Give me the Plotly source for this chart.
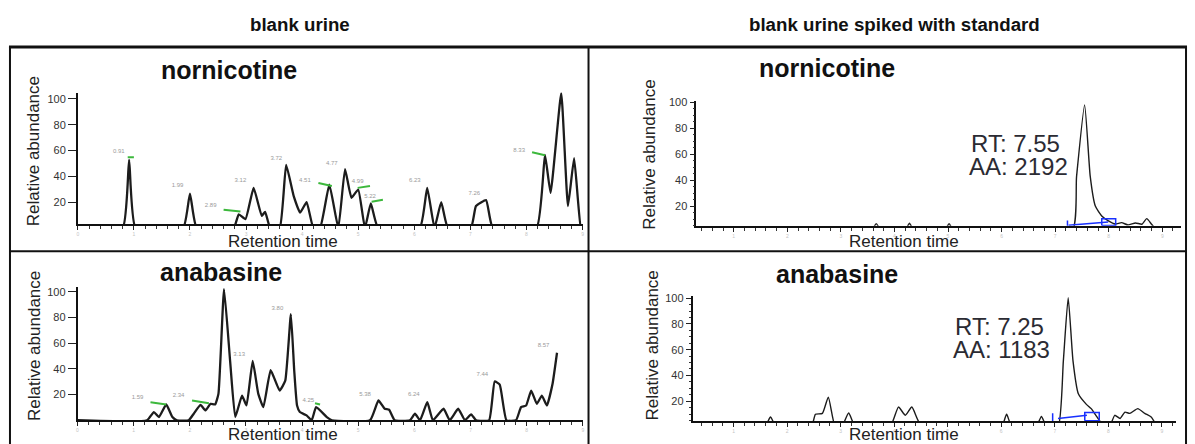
import plotly.graph_objects as go

W, H = 1195, 444
FONT = "Liberation Sans, Arial, Helvetica, sans-serif"

# ---------------- data ----------------
col_headers = ["blank urine", "blank urine spiked with standard"]
analytes = ["nornicotine", "anabasine"]
y_tick_vals = [20, 40, 60, 80, 100]
x_tick_vals = [0, 1, 2, 3, 4, 5, 6, 7, 8, 9]
axis_x_title = "Retention time"
axis_y_title = "Relative abundance"

# nornicotine, blank urine  (time [min], relative abundance [%])
nor_blank_t = [0, 0.80, 0.915, 1.03, 1.88, 2.0, 2.12, 2.78, 2.87, 2.99, 3.135, 3.28, 3.34, 3.43,
               3.60, 3.715, 3.85, 3.965, 4.08, 4.20, 4.32, 4.485, 4.645, 4.765, 4.88, 5.0, 5.12,
               5.225, 5.355, 6.10, 6.23, 6.36, 6.48, 6.60, 7.01, 7.10, 7.28, 7.40, 8.18, 8.33,
               8.43, 8.62, 8.74, 8.85, 8.97, 9.0]
nor_blank_v = [0, 0, 52.7, 0, 0, 26.6, 0, 0, 10.5, 6.7, 31.0, 9.3, 12.4, 0,
               0, 48.8, 24.6, 11.8, 20.0, 0, 0, 33.5, 0, 45.6, 23.3, 29.7, 0,
               18.9, 0, 0, 31.0, 0, 20.0, 0, 0, 16.9, 21.5, 0, 0, 56.5,
               27.1, 104.4, 16.9, 54.0, 0, 0]
nor_blank_lbl = ["0.91", "1.99", "2.89", "3.12", "3.72", "4.51", "4.77", "4.99", "5.22", "6.23", "7.26", "8.33"]
nor_blank_lbl_t = [0.73, 1.78, 2.37, 2.90, 3.54, 4.05, 4.53, 4.99, 5.21, 6.01, 7.07, 7.87]
nor_blank_lbl_v = [59.4, 32.5, 17.2, 37.1, 54.0, 37.1, 50.2, 35.6, 24.1, 37.1, 26.4, 60.1]
nor_blank_mark_t = [[0.89, 1.0], [2.60, 2.90], [4.29, 4.53], [4.99, 5.21], [5.24, 5.44], [8.10, 8.33]]
nor_blank_mark_v = [[54.8, 54.8], [14.1, 12.6], [34.8, 32.5], [31.0, 32.5], [20.2, 21.8], [58.6, 56.3]]

# anabasine, blank urine
ana_blank_t = [0, 1.24, 1.36, 1.45, 1.58, 1.69, 1.77, 1.98, 2.07, 2.19, 2.28, 2.37, 2.45, 2.51,
               2.61, 2.72, 2.81, 2.93, 3.01, 3.12, 3.22, 3.31, 3.44, 3.60, 3.70, 3.80, 3.86,
               3.91, 3.96, 4.08, 4.17, 4.25, 4.44, 4.53, 5.21, 5.36, 5.47, 5.55, 5.65, 5.92,
               6.01, 6.10, 6.23, 6.33, 6.52, 6.63, 6.78, 6.90, 7.01, 7.10, 7.33, 7.43, 7.52,
               7.64, 7.81, 7.90, 7.99, 8.08, 8.18, 8.27, 8.36, 8.46, 8.54]
ana_blank_v = [0, 0, 6.4, 2.5, 12.3, 2.5, 0, 0, 5.1, 12.0, 7.7, 12.8, 12.3, 20.5,
               102.0, 45.0, 2.5, 19.2, 11.5, 46.2, 20.5, 10.2, 39.0, 23.1, 30.8, 82.5, 38.5,
               11.5, 6.4, 3.8, 0, 10.2, 2.5, 0, 0, 15.4, 9.0, 8.2, 0, 0,
               5.1, 0, 14.1, 0, 9.0, 0, 9.0, 0, 4.6, 0, 0, 30.2, 27.7,
               0, 0, 10.2, 11.5, 23.1, 12.8, 19.2, 11.5, 28.2, 52.5]
ana_blank_lbl = ["1.59", "2.34", "2.61", "3.13", "3.80", "4.25", "5.38", "6.24", "7.44", "8.57"]
ana_blank_lbl_t = [1.07, 1.80, 2.49, 2.88, 3.56, 4.11, 5.12, 5.99, 7.21, 8.30]
ana_blank_lbl_v = [17.7, 19.2, 106.4, 50.8, 87.2, 15.4, 20.0, 20.0, 35.4, 58.5]
ana_blank_mark_t = [[1.30, 1.58], [2.04, 2.34], [4.23, 4.32]]
ana_blank_mark_v = [[14.1, 12.3], [15.4, 13.3], [13.3, 12.3]]

# nornicotine, spiked urine
nor_spk_t = [0.30, 3.55, 3.66, 3.77, 4.18, 4.28, 4.38, 4.92, 5.02, 5.12, 7.31, 7.40, 7.55,
             7.655, 7.75, 7.87, 7.995, 8.12, 8.24, 8.36, 8.50, 8.62, 8.71, 8.80, 8.93, 9.35]
nor_spk_v = [0, 0, 6.5, 0, 0, 6.8, 0, 0, 6.5, 0, 0, 42.9, 98.2,
             42.9, 20.0, 12.4, 8.6, 6.2, 7.2, 5.5, 7.0, 6.0, 10.3, 6.0, 0, 0]
nor_spk_rt, nor_spk_aa = "7.55", "2192"
nor_spk_base_t = [7.25, 7.99]
nor_spk_base_v = [5.2, 7.8]
nor_spk_start_t = [7.23, 7.23]
nor_spk_start_v = [4.0, 8.8]
nor_spk_box_t = [7.87, 8.13]
nor_spk_box_v = [5.0, 10.3]

# anabasine, spiked urine
ana_spk_t = [0.235, 1.58, 1.69, 1.80, 2.45, 2.53, 2.66, 2.77, 2.90, 3.02, 3.15, 3.28, 3.92,
             4.08, 4.21, 4.33, 4.52, 6.00, 6.10, 6.20, 6.65, 6.75, 6.85, 7.06, 7.16, 7.25,
             7.34, 7.44, 7.59, 7.68, 7.78, 7.93, 8.02, 8.12, 8.22, 8.31, 8.40, 8.55, 8.68,
             8.80, 8.93, 9.27]
ana_spk_v = [0, 0, 7.7, 0, 0, 9.8, 10.5, 23.1, 0, 0, 10.8, 0, 0,
             15.4, 9.0, 15.4, 0, 0, 9.8, 0, 0, 8.2, 0, 0, 51.3, 100.5,
             51.3, 25.7, 17.5, 14.2, 8.2, 0, 0, 9.0, 6.5, 11.5, 10.5, 14.2, 10.5,
             7.7, 0, 0]
ana_spk_rt, ana_spk_aa = "7.25", "1183"
ana_spk_base_t = [7.06, 7.60]
ana_spk_base_v = [6.5, 9.0]
ana_spk_start_t = [6.96, 6.96]
ana_spk_start_v = [4.0, 10.5]
ana_spk_box_t = [7.56, 7.83]
ana_spk_box_v = [4.8, 11.1]

# ---------------- layout helpers ----------------
def fx(p):
    return p / W


def fy(p):
    return 1 - p / H


# panel geometry (pixels) and axis ranges
panels = [
    dict(ax="", xd=(77, 583), yd=(88.5, 221.7), xr=(0, 9), yr=(2.8, 105), spiked=False),
    dict(ax="2", xd=(76.7, 583.3), yd=(285, 420), xr=(0, 9), yr=(0, 103.8), spiked=False),
    dict(ax="3", xd=(697, 1183), yd=(97.3, 223.3), xr=(0.30, 9.35), yr=(4.8, 101), spiked=True),
    dict(ax="4", xd=(693.3, 1178.3), yd=(294, 420.7), xr=(0.235, 9.27), yr=(4.6, 102), spiked=True),
]

fig = go.Figure()

LINE_DARK = "#1c1c1c"
GREEN = "#3cb83c"
BLUE = "#1830ff"


def add_trace(i, t, v, width, smooth):
    p = panels[i]
    fig.add_trace(go.Scatter(
        x=t, y=v, mode="lines",
        line=dict(color=LINE_DARK, width=width, shape="spline", smoothing=smooth),
        xaxis="x" + p["ax"], yaxis="y" + p["ax"], hoverinfo="skip", showlegend=False))


def add_labels(i, txt, t, v):
    p = panels[i]
    fig.add_trace(go.Scatter(
        x=t, y=v, mode="text", text=txt, cliponaxis=False,
        textfont=dict(size=6, color="#9a9a9a", family=FONT),
        xaxis="x" + p["ax"], yaxis="y" + p["ax"], hoverinfo="skip", showlegend=False))


def add_segments(i, seg_t, seg_v, color, width):
    p = panels[i]
    xs, ys = [], []
    for a, b in zip(seg_t, seg_v):
        xs += list(a) + [None]
        ys += list(b) + [None]
    fig.add_trace(go.Scatter(
        x=xs, y=ys, mode="lines", line=dict(color=color, width=width),
        xaxis="x" + p["ax"], yaxis="y" + p["ax"], hoverinfo="skip", showlegend=False))


def add_box(i, bt, bv):
    p = panels[i]
    fig.add_trace(go.Scatter(
        x=[bt[0], bt[1], bt[1], bt[0], bt[0]], y=[bv[0], bv[0], bv[1], bv[1], bv[0]],
        mode="lines", line=dict(color=BLUE, width=1.5),
        xaxis="x" + p["ax"], yaxis="y" + p["ax"], hoverinfo="skip", showlegend=False))


# blank urine panels
add_trace(0, nor_blank_t, nor_blank_v, 2.3, 0.4)
add_segments(0, nor_blank_mark_t, nor_blank_mark_v, GREEN, 2)
add_labels(0, nor_blank_lbl, nor_blank_lbl_t, nor_blank_lbl_v)

add_trace(1, ana_blank_t, ana_blank_v, 2.3, 0.4)
add_segments(1, ana_blank_mark_t, ana_blank_mark_v, GREEN, 2)
add_labels(1, ana_blank_lbl, ana_blank_lbl_t, ana_blank_lbl_v)

# spiked panels
add_trace(2, nor_spk_t, nor_spk_v, 1.4, 0.5)
add_segments(2, [nor_spk_base_t, nor_spk_start_t], [nor_spk_base_v, nor_spk_start_v], BLUE, 1.5)
add_box(2, nor_spk_box_t, nor_spk_box_v)

add_trace(3, ana_spk_t, ana_spk_v, 1.4, 0.5)
add_segments(3, [ana_spk_base_t, ana_spk_start_t], [ana_spk_base_v, ana_spk_start_v], BLUE, 1.5)
add_box(3, ana_spk_box_t, ana_spk_box_v)

# axes
layout_axes = {}
for p in panels:
    ax = p["ax"]
    xname = "xaxis" + ax
    yname = "yaxis" + ax
    layout_axes[xname] = dict(
        domain=[fx(p["xd"][0]), fx(p["xd"][1])], range=list(p["xr"]), anchor="y" + ax,
        showgrid=False, zeroline=False, showline=True, linecolor="#111", linewidth=2,
        tickmode="array", tickvals=x_tick_vals, ticktext=[str(v) for v in x_tick_vals],
        ticks="outside", ticklen=4, tickwidth=1, tickcolor="#222",
        tickfont=dict(size=5, color="#c4c4c4", family=FONT),
        minor=dict(tickmode="linear", tick0=0, dtick=0.2, ticks="outside", ticklen=3,
                   tickwidth=1, tickcolor="#333"),
        fixedrange=True)
    ydict = dict(
        domain=[fy(p["yd"][1]), fy(p["yd"][0])], range=list(p["yr"]), anchor="x" + ax,
        showgrid=False, zeroline=False, showline=True, linecolor="#111", linewidth=1.5,
        tickmode="array", tickvals=y_tick_vals, ticktext=[str(v) for v in y_tick_vals],
        ticks="outside", ticklen=8 if not p["spiked"] else 5, tickwidth=1.2, tickcolor="#222",
        tickfont=dict(size=11, color="#333", family=FONT),
        fixedrange=True)
    if p["spiked"]:
        ydict["minor"] = dict(tickmode="linear", tick0=0, dtick=5, ticks="outside", ticklen=2,
                              tickwidth=1, tickcolor="#333")
    layout_axes[yname] = ydict

annotations = []


def ann(text, x, y, size, bold=False, angle=0, xanchor="center", color="#111"):
    annotations.append(dict(
        text=text, x=fx(x), y=fy(y), xref="paper", yref="paper", showarrow=False,
        xanchor=xanchor, yanchor="middle", textangle=angle,
        font=dict(size=size, color=color, family=FONT, weight="bold" if bold else "normal")))


# column headers
ann(col_headers[0], 300, 20, 18.7, bold=True)
ann(col_headers[1], 896, 20, 18.7, bold=True)
# analyte titles
ann(analytes[0], 229, 66, 25, bold=True)
ann(analytes[0], 828, 64, 25, bold=True)
ann(analytes[1], 221, 270, 25, bold=True)
ann(analytes[1], 838, 272, 25, bold=True)
# axis titles
for (x, y) in [(32, 148), (33, 345), (650, 151), (653, 344)]:
    ann(axis_y_title, x, y, 17, angle=-90, color="#222")
for (x, y) in [(283, 239), (283, 434), (905, 239), (905, 434)]:
    ann(axis_x_title, x, y, 17, color="#222")
# RT / AA labels
ann("RT: " + nor_spk_rt, 970, 140, 24, xanchor="left", color="#2b2b33")
ann("AA: " + nor_spk_aa, 968, 163, 24, xanchor="left", color="#2b2b33")
ann("RT: " + ana_spk_rt, 954, 325, 24, xanchor="left", color="#2b2b33")
ann("AA: " + ana_spk_aa, 952, 348, 24, xanchor="left", color="#2b2b33")

# panel frame lines
shapes = []


def line(x0, y0, x1, y1, w):
    shapes.append(dict(type="line", xref="paper", yref="paper",
                       x0=fx(x0), y0=fy(y0), x1=fx(x1), y1=fy(y1),
                       line=dict(color="#111", width=w)))


line(8, 42.5, 1189, 42.5, 3)
line(9, 42, 9, 444, 2)
line(1188, 42, 1188, 444, 2)
line(589, 42, 589, 444, 2)
line(9, 249, 1188, 249, 2)

fig.update_layout(
    width=W, height=H, autosize=False,
    margin=dict(l=0, r=0, t=0, b=0),
    paper_bgcolor="white", plot_bgcolor="white",
    showlegend=False,
    annotations=annotations, shapes=shapes,
    font=dict(family=FONT),
    **layout_axes)

fig.write_html("out.html", config=dict(displayModeBar=False))
